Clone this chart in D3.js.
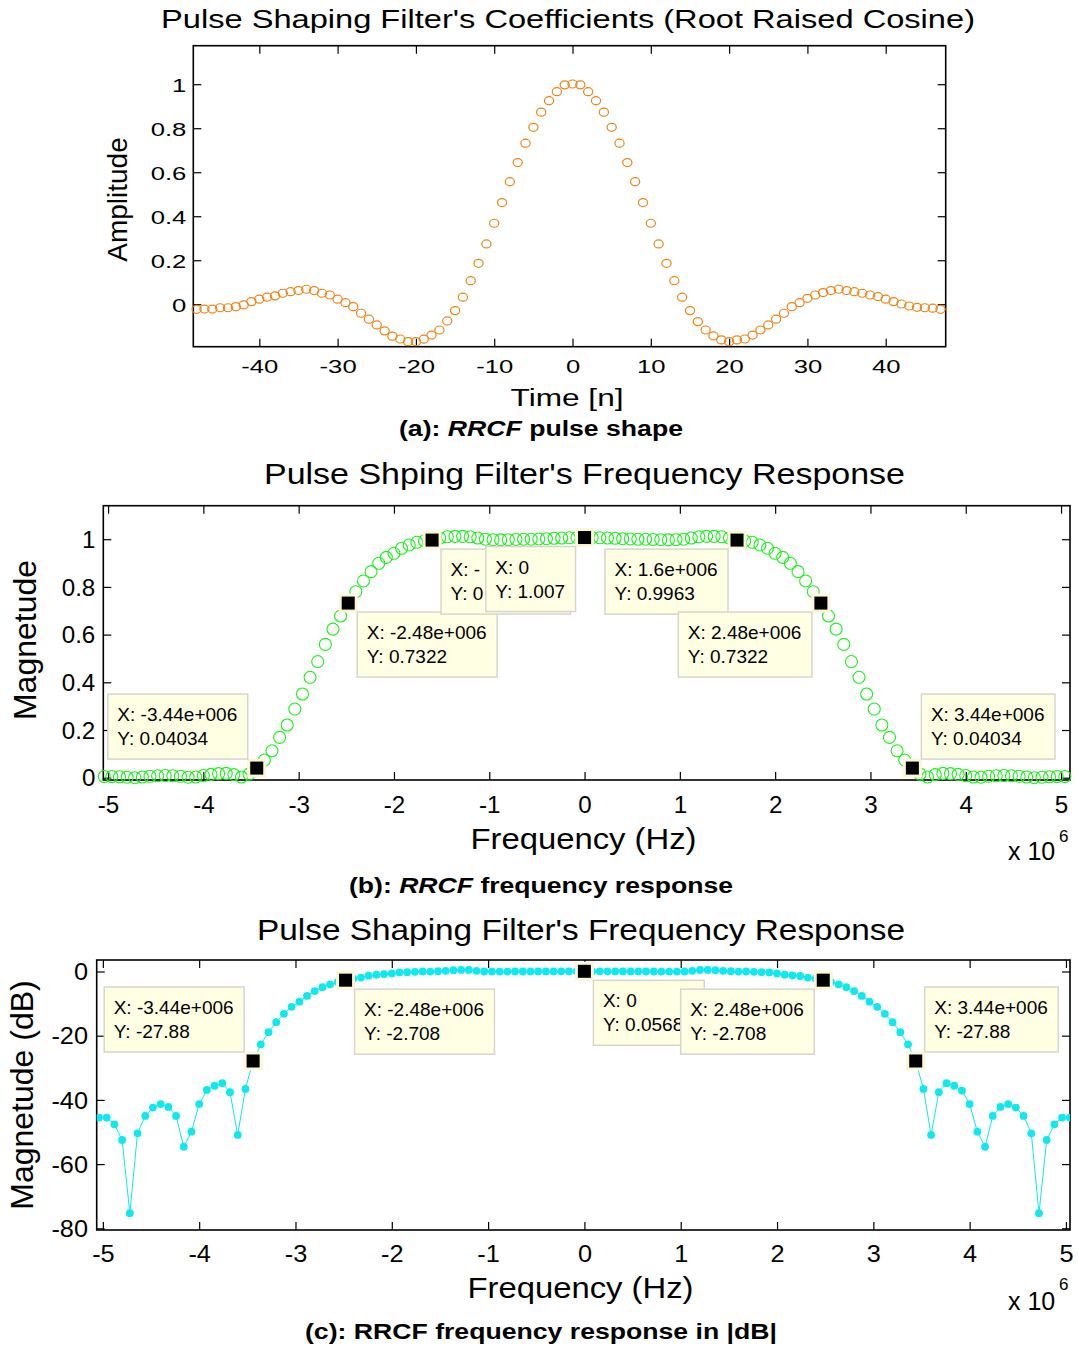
<!DOCTYPE html>
<html lang="en">
<head>
<meta charset="utf-8">
<script src="https://cdnjs.cloudflare.com/ajax/libs/d3/7.8.5/d3.min.js"></script>
<style>
body { margin: 0; background: #fff; }
svg text { font-family: "Liberation Sans", Arial, sans-serif; fill: #000; }
</style>
</head>
<body>
<script>

///////// data

// (a) filter taps, n = -48 .. 47
var tapIndex = d3.range(-48, 48);
var coefA = [
  -0.023, -0.022, -0.022, -0.016, -0.016, -0.011, -0.003, 0.012, 0.023, 0.032,
  0.038, 0.050, 0.057, 0.062, 0.068, 0.062, 0.050, 0.042, 0.023, 0.007,
  -0.011, -0.041, -0.068, -0.094, -0.121, -0.145, -0.158, -0.170, -0.170, -0.159,
  -0.140, -0.117, -0.076, -0.029, 0.032, 0.107, 0.186, 0.274, 0.368, 0.462,
  0.557, 0.644, 0.732, 0.804, 0.873, 0.925, 0.966, 0.997, 1.001, 0.997,
  0.966, 0.925, 0.873, 0.804, 0.732, 0.644, 0.557, 0.462, 0.368, 0.274,
  0.186, 0.107, 0.032, -0.029, -0.079, -0.117, -0.144, -0.162, -0.170, -0.162,
  -0.158, -0.140, -0.117, -0.094, -0.068, -0.041, -0.011, 0.007, 0.027, 0.042,
  0.053, 0.062, 0.068, 0.062, 0.057, 0.050, 0.042, 0.035, 0.023, 0.012,
  0.001, -0.008, -0.014, -0.016, -0.018, -0.023
];

// (b),(c) frequency bins, 80 kHz apart, k = -63 .. 63
var binIndex = d3.range(-63, 64);
var binHz = 80000;
var magB = [
  0.005, 0.005, 0.004, 0.002, 0.000, 0.003, 0.006, 0.008, 0.009, 0.008,
  0.006, 0.002, 0.003, 0.009, 0.014, 0.017, 0.018, 0.013, 0.003, 0.015,
  0.04034, 0.074, 0.113, 0.169, 0.221, 0.288, 0.351, 0.421, 0.487, 0.559,
  0.623, 0.678, 0.7322, 0.780, 0.825, 0.864, 0.899, 0.924, 0.941, 0.962,
  0.976, 0.987, 0.993, 0.9963,
  1.005, 1.010, 1.012, 1.012, 1.010, 1.005, 1.000, 0.998, 0.997, 0.998,
  0.999, 1.000, 1.000, 1.001, 1.002, 1.004, 1.005, 1.006, 1.007,
  1.007,
  1.007, 1.006, 1.005, 1.004, 1.002, 1.001, 1.000, 1.000, 0.999, 0.998,
  0.997, 0.998, 1.000, 1.005, 1.010, 1.012, 1.012, 1.010, 1.005,
  0.9963, 0.993, 0.987, 0.976, 0.962, 0.941, 0.924, 0.899, 0.864, 0.825,
  0.780, 0.7322, 0.678, 0.623, 0.559, 0.487, 0.421, 0.351, 0.288, 0.221,
  0.169, 0.113, 0.074, 0.04034,
  0.015, 0.003, 0.013, 0.018, 0.017, 0.014, 0.009, 0.003, 0.002, 0.006,
  0.008, 0.009, 0.008, 0.006, 0.003, 0.000, 0.002, 0.004, 0.005, 0.005
];
var dbC = [
  -45.5, -45.5, -47.6, -52.5, -75.3, -50.4, -45.0, -42.4, -41.3, -42.2,
  -45.0, -54.6, -49.9, -41.3, -36.9, -35.6, -34.8, -37.6, -50.9, -36.6,
  -27.88, -22.7, -18.9, -15.8, -13.2, -11.0, -9.4, -7.6, -6.1, -4.9,
  -4.0, -3.3, -2.708, -2.2, -1.9, -1.3, -1.0, -0.8, -0.6, -0.3,
  -0.2, -0.1, 0.0, -0.03,
  0.1, 0.2, 0.4, 0.5, 0.5, 0.2, 0.0, -0.02, -0.03, -0.02,
  0.0, 0.0, 0.01, 0.02, 0.02, 0.03, 0.04, 0.05, 0.06,
  0.05684,
  0.06, 0.05, 0.04, 0.03, 0.02, 0.02, 0.01, 0.0, 0.0, -0.02,
  -0.03, -0.02, 0.0, 0.2, 0.5, 0.5, 0.4, 0.2, 0.1,
  -0.03, 0.0, -0.1, -0.2, -0.3, -0.6, -1.0, -1.2, -1.4, -1.9,
  -2.2, -2.708, -3.3, -4.0, -4.9, -6.1, -7.6, -9.4, -11.0, -13.2,
  -15.8, -18.9, -22.7, -27.88,
  -36.6, -50.9, -37.6, -34.8, -35.6, -37.1, -41.3, -49.9, -54.6, -45.0,
  -42.2, -41.3, -42.4, -45.0, -50.4, -75.3, -52.5, -47.6, -45.5, -45.5
];

// tick values
var ticksAx = [-40, -30, -20, -10, 0, 10, 20, 30, 40];
var ticksAy = [0, 0.2, 0.4, 0.6, 0.8, 1];
var ticksF = [-5e6, -4e6, -3e6, -2e6, -1e6, 0, 1e6, 2e6, 3e6, 4e6, 5e6];
var ticksBy = [0, 0.2, 0.4, 0.6, 0.8, 1];
var ticksCy = [-80, -60, -40, -20, 0];

// data tips: bin, x label, which corner the box sits in,
// and how many characters show when a later tip covers this one
var tipsB = [
  {k: -43, xs: "-3.44e+006", pos: "tl"},
  {k: -31, xs: "-2.48e+006", pos: "br"},
  {k: -20, xs: "-1.6e+006", pos: "br", cut: 4},
  {k: 0, xs: "0", pos: "bl"},
  {k: 20, xs: "1.6e+006", pos: "bl"},
  {k: 31, xs: "2.48e+006", pos: "bl"},
  {k: 43, xs: "3.44e+006", pos: "tr"}
];
var tipsC = [
  {k: -43, xs: "-3.44e+006", pos: "tl"},
  {k: -31, xs: "-2.48e+006", pos: "br"},
  {k: 0, xs: "0", pos: "br", cut: 9},
  {k: 31, xs: "2.48e+006", pos: "bl"},
  {k: 43, xs: "3.44e+006", pos: "tr"}
];

///////// helpers

var svg = d3.select("body").append("svg")
    .attr("width", 1078)
    .attr("height", 1347);

function widen(sel, k) {
  sel.each(function() {
    var w = this.getComputedTextLength();
    d3.select(this).attr("textLength", w * k).attr("lengthAdjust", "spacingAndGlyphs");
  });
}

function addText(x, y, str, size, width, rot) {
  var t = svg.append("text")
      .attr("font-size", size)
      .attr("text-anchor", "middle")
      .text(str);
  if (rot) t.attr("transform", "translate(" + x + "," + y + ") rotate(-90)");
  else t.attr("x", x).attr("y", y);
  if (width) t.attr("textLength", width).attr("lengthAdjust", "spacingAndGlyphs");
  return t;
}

function caption(x, y, lead, mid, tail, italic, width) {
  var t = svg.append("text")
      .attr("x", x).attr("y", y)
      .attr("font-size", 22)
      .attr("font-weight", "bold")
      .attr("text-anchor", "middle");
  t.append("tspan").text(lead);
  t.append("tspan").attr("font-style", italic ? "italic" : null).text(mid);
  t.append("tspan").text(tail);
  t.attr("textLength", width).attr("lengthAdjust", "spacingAndGlyphs");
}

function drawFrame(p) {
  var x = p.x, y = p.y;
  var x0 = x.range()[0], x1 = x.range()[1], y0 = y.range()[0], y1 = y.range()[1];
  var g = svg.append("g");

  var bot = g.append("g")
      .attr("transform", "translate(0," + y0 + ")")
      .call(d3.axisBottom(x).tickValues(p.xt).tickFormat(p.fx).tickSizeInner(-8).tickSizeOuter(0))
      .attr("font-size", p.fs)
      .attr("font-family", null);
  bot.selectAll("text").attr("y", p.xoff).attr("dy", null);
  widen(bot.selectAll("text"), p.sx);

  g.append("g")
      .attr("transform", "translate(0," + y1 + ")")
      .call(d3.axisTop(x).tickValues(p.xt).tickFormat("").tickSizeInner(-8).tickSizeOuter(0));

  var left = g.append("g")
      .attr("transform", "translate(" + x0 + ",0)")
      .call(d3.axisLeft(y).tickValues(p.yt).tickFormat(p.fy).tickSizeInner(-8).tickSizeOuter(0))
      .attr("font-size", p.fs)
      .attr("font-family", null);
  left.selectAll("text").attr("x", -p.yoff).attr("dy", "0.36em");
  widen(left.selectAll("text"), p.sx);

  g.append("g")
      .attr("transform", "translate(" + x1 + ",0)")
      .call(d3.axisRight(y).tickValues(p.yt).tickFormat("").tickSizeInner(-8).tickSizeOuter(0));

  g.selectAll(".domain").remove();
  g.selectAll(".tick line").attr("stroke-width", 1.2);
  g.append("rect")
      .attr("x", x0).attr("y", y1)
      .attr("width", x1 - x0).attr("height", y0 - y1)
      .attr("fill", "none")
      .attr("stroke", "#000")
      .attr("stroke-width", 1.6);
}

function drawTips(p, tips, vals) {
  var fmt4 = d3.format(".4~g");
  var fmtY = function(v) { return fmt4(v).replace("\u2212", "-"); };
  var marks = svg.append("g");
  var boxes = svg.append("g");
  tips.forEach(function(t) {
    var i = binIndex.indexOf(t.k);
    var mx = p.x(t.k * binHz), my = p.y(vals[i]);
    marks.append("rect")
        .attr("x", mx - 9.5).attr("y", my - 9.5)
        .attr("width", 19).attr("height", 19)
        .attr("fill", "#fbf7d6");
    marks.append("rect")
        .attr("x", mx - 6.5).attr("y", my - 6.5)
        .attr("width", 13).attr("height", 13)
        .attr("fill", "#000");

    var s1 = "X: " + t.xs, s2 = "Y: " + fmtY(vals[i]);
    var b = boxes.append("g");
    var r = b.append("rect")
        .attr("fill", "#ffffe4")
        .attr("stroke", "#d6d6cc")
        .attr("stroke-width", 1.5);
    var l1 = b.append("text").attr("font-size", 19).attr("x", 9.5).attr("y", 27).text(s1);
    var l2 = b.append("text").attr("font-size", 19).attr("x", 9.5).attr("y", 51).text(s2);
    var w = Math.max(l1.node().getComputedTextLength(), l2.node().getComputedTextLength()) + 20;
    var h = 65, gap = 9;
    r.attr("width", w).attr("height", h);
    // a tip drawn later sits on top of this one: keep only the part that shows
    if (t.cut) {
      l1.text(s1.slice(0, t.cut));
      l2.text(s2.slice(0, t.cut));
    }
    var bx = t.pos[1] === "l" ? mx - gap - w : mx + gap;
    var by = t.pos[0] === "t" ? my - gap - h : my + gap;
    b.attr("transform", "translate(" + bx + "," + by + ")");
  });
}

var fmtNum = function(d) { return String(+d.toFixed(1)); };
var fmtMHz = function(d) { return String(d / 1e6); };

///////// (a) pulse shape

var pA = {
  x: d3.scaleLinear().domain([-48.43, 47.66]).range([193.3, 945.7]),
  y: d3.scaleLinear().domain([-0.193, 1.175]).range([346.7, 45.7]),
  xt: ticksAx, yt: ticksAy, fx: String, fy: fmtNum,
  fs: 19, sx: 1.35, xoff: 26, yoff: 7
};
drawFrame(pA);

svg.append("g").selectAll("ellipse")
    .data(tapIndex)
    .enter().append("ellipse")
    .attr("cx", function(d) { return pA.x(d); })
    .attr("cy", function(d, i) { return pA.y(coefA[i]); })
    .attr("rx", 4.6).attr("ry", 4)
    .attr("fill", "none")
    .attr("stroke", "#ec8418")
    .attr("stroke-width", 1.2);

addText(568, 28, "Pulse Shaping Filter's Coefficients (Root Raised Cosine)", 25.6, 814);
addText(567, 406, "Time [n]", 23, 113);
addText(127, 199.5, "Amplitude", 28, null, true);
caption(541, 436, "(a): ", "RRCF", " pulse shape", true, 284);

///////// (b) frequency response

var pB = {
  x: d3.scaleLinear().domain([-5.050e6, 5.094e6]).range([103.3, 1070]),
  y: d3.scaleLinear().domain([-0.0096, 1.1405]).range([780, 505.7]),
  xt: ticksF, yt: ticksBy, fx: fmtMHz, fy: fmtNum,
  fs: 23, sx: 1.05, xoff: 33, yoff: 8
};
drawFrame(pB);

svg.append("g").selectAll("circle")
    .data(binIndex)
    .enter().append("circle")
    .attr("cx", function(d) { return pB.x(d * binHz); })
    .attr("cy", function(d, i) { return pB.y(magB[i]); })
    .attr("r", 6)
    .attr("fill", "none")
    .attr("stroke", "#1cf01c")
    .attr("stroke-width", 1.1);

drawTips(pB, tipsB, magB);

addText(584.5, 484, "Pulse Shping Filter's Frequency Response", 30, 641);
addText(583.5, 849, "Frequency (Hz)", 30, 226);
addText(36, 640, "Magnetude", 32, null, true);
svg.append("text").attr("x", 1008).attr("y", 860).attr("font-size", 25).text("x 10");
svg.append("text").attr("x", 1059).attr("y", 842).attr("font-size", 17).text("6");
caption(541, 893, "(b): ", "RRCF", " frequency response", true, 384);

///////// (c) frequency response in dB

var pC = {
  x: d3.scaleLinear().domain([-5.064e6, 5.042e6]).range([96.7, 1070]),
  y: d3.scaleLinear().domain([-80.53, 3.58]).range([1230, 960]),
  xt: ticksF, yt: ticksCy, fx: fmtMHz, fy: String,
  fs: 23, sx: 1.1, xoff: 32, yoff: 8.7
};
drawFrame(pC);

svg.append("defs").append("clipPath")
    .attr("id", "clipC")
  .append("rect")
    .attr("x", 96.7).attr("y", 960)
    .attr("width", 1070 - 96.7).attr("height", 270);

var gC = svg.append("g").attr("clip-path", "url(#clipC)");
gC.append("path")
    .datum(binIndex)
    .attr("d", d3.line()
        .x(function(d) { return pC.x(d * binHz); })
        .y(function(d, i) { return pC.y(dbC[i]); }))
    .attr("fill", "none")
    .attr("stroke", "#10e8f0")
    .attr("stroke-width", 1);
gC.selectAll("circle")
    .data(binIndex)
    .enter().append("circle")
    .attr("cx", function(d) { return pC.x(d * binHz); })
    .attr("cy", function(d, i) { return pC.y(dbC[i]); })
    .attr("r", 3.9)
    .attr("fill", "#10e8f0");

drawTips(pC, tipsC, dbC);

addText(581, 940, "Pulse Shaping Filter's Frequency Response", 30, 648);
addText(580.5, 1298, "Frequency (Hz)", 30, 226);
addText(33, 1095, "Magnetude (dB)", 32, null, true);
svg.append("text").attr("x", 1008).attr("y", 1310).attr("font-size", 25).text("x 10");
svg.append("text").attr("x", 1059).attr("y", 1290).attr("font-size", 17).text("6");
caption(541, 1339, "(c): ", "RRCF", " frequency response in |dB|", false, 472);

</script>
</body>
</html>
